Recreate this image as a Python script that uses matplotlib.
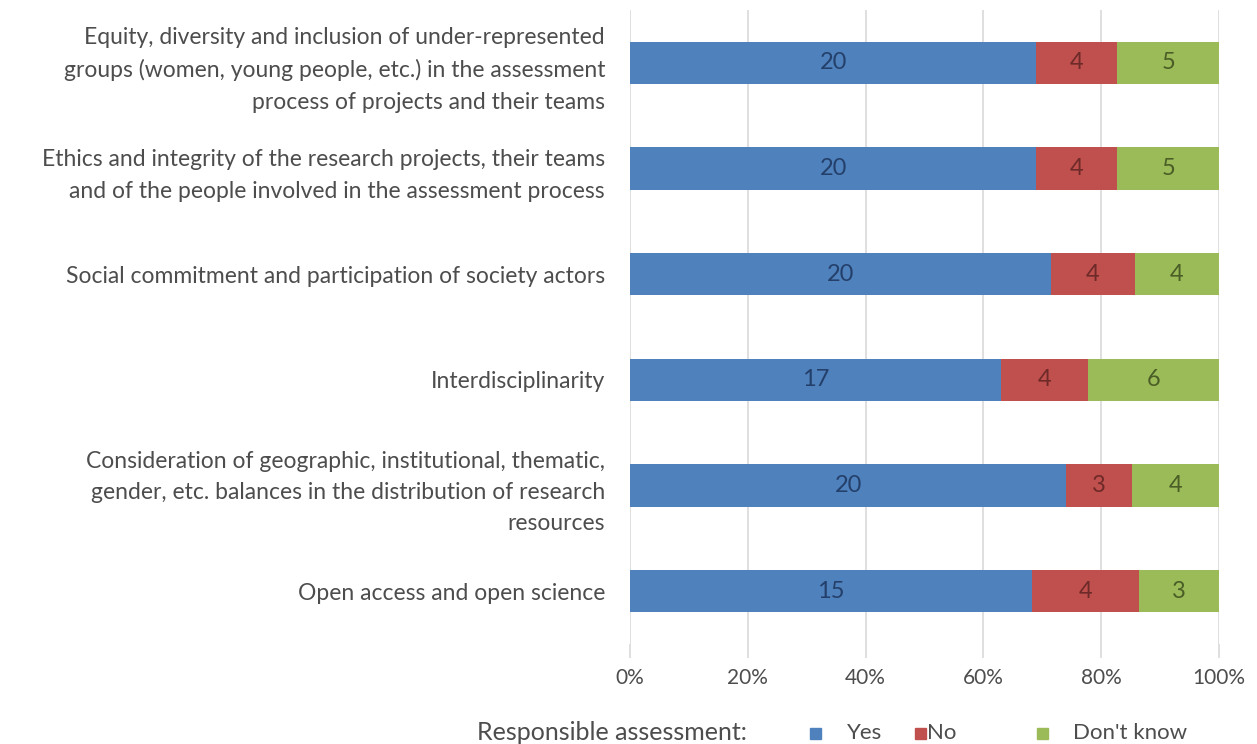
import numpy as np
import matplotlib.pyplot as plt
from matplotlib.patches import Rectangle

# ------------------ Data ------------------
categories = [
    "Equity, diversity and inclusion of under-represented\ngroups (women, young people, etc.) in the assessment\nprocess of projects and their teams",
    "Ethics and integrity of the research projects, their teams\nand of the people involved in the assessment process",
    "Social commitment and participation of society actors",
    "Interdisciplinarity",
    "Consideration of geographic, institutional, thematic,\ngender, etc. balances in the distribution of research\nresources",
    "Open access and open science",
]
yes = np.array([20, 20, 20, 17, 20, 15])
no = np.array([4, 4, 4, 4, 3, 4])
dont_know = np.array([5, 5, 4, 6, 4, 3])
series_names = ["Yes", "No", "Don't know"]
tick_labels = ["0%", "20%", "40%", "60%", "80%", "100%"]

colors = ["#4f81bd", "#c0504d", "#9bbb59"]
text_colors = ["#24406a", "#6e2a28", "#4a5e26"]
grey = "#4d4d4d"

plt.rcParams['font.family'] = ['Lato', 'DejaVu Sans']

# ------------------ Plot ------------------
W, H = 1257, 744
fig = plt.figure(figsize=(W / 100, H / 100), dpi=100)
ax = fig.add_axes([630 / W, 1 - 644 / H, 589 / W, 634 / H])

counts = np.vstack([yes, no, dont_know])
totals = counts.sum(axis=0)
shares = counts / totals
y = np.arange(len(categories))

left = np.zeros(len(categories))
for k in range(3):
    ax.barh(y, shares[k], left=left, height=0.4, color=colors[k],
            label=series_names[k], zorder=3)
    for i in range(len(categories)):
        ax.text(left[i] + shares[k][i] / 2, y[i], str(counts[k][i]),
                ha='center', va='center', fontsize=17, color=text_colors[k], zorder=4)
    left += shares[k]

ax.set_ylim(len(categories) - 0.5, -0.5)
ax.set_xlim(0, 1)
ax.set_xticks(np.linspace(0, 1, 6))
ax.set_xticklabels(tick_labels, fontsize=15, color=grey)
ax.set_yticks(y)
ax.set_yticklabels(categories, fontsize=16.5, color=grey, linespacing=1.6)
ax.tick_params(axis='y', length=0, pad=18)
ax.tick_params(axis='x', length=10, color="#d9d9d9", width=1.2, pad=7)
ax.grid(axis='x', color="#d9d9d9", linewidth=1.2, zorder=0)
for s in ax.spines.values():
    s.set_visible(False)

# ------------------ Legend ------------------
ly = 1 - 733 / H
fig.text(477 / W, ly, "Responsible assessment:", fontsize=18, color=grey, va='center')
sq_x = [810, 915, 1037]
txt_x = [847, 927, 1073]
for k in range(3):
    fig.patches.append(Rectangle((sq_x[k] / W, ly - 6 / H), 11 / W, 11 / H,
                                 transform=fig.transFigure, color=colors[k]))
    fig.text(txt_x[k] / W, ly, series_names[k], fontsize=16, color=grey, va='center')

fig.savefig("out.png", dpi=100)
